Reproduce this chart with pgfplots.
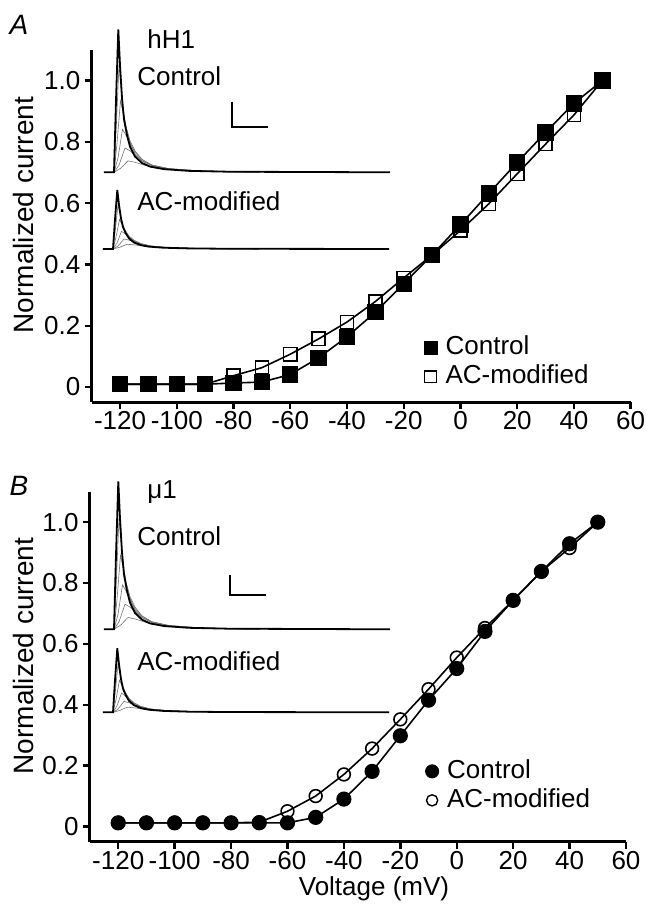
\documentclass[border=0pt]{standalone}
\usepackage{fontspec}
\setmainfont{Liberation Sans}
\usepackage{pgfplots}
\usepackage{pgfplotstable}
\pgfplotsset{compat=1.18}

\newcommand\fs{\fontsize{13}{15.6}\selectfont}
\newcommand\fl{\fontsize{14}{16.8}\selectfont}
\newcommand\tl[1]{\mbox{\fs #1}}

% inset current traces: t = px after onset, f = fraction of peak
\pgfplotstableread{
t f
-10 0
0 0
2 0.5
4.3 1
6 0.75
8 0.52
10 0.37
13 0.26
16 0.18
21 0.11
28 0.065
36 0.04
50 0.022
75 0.01
115 0.004
276 0
}\trmain
\pgfplotstableread{
t f
0 0
2.5 0.35
5 0.75
7 0.6
9 0.45
12 0.32
16 0.21
21 0.13
28 0.08
38 0.045
55 0.02
85 0.008
146 0
}\trb
\pgfplotstableread{
t f
0 0
3 0.2
6.5 0.5
9 0.42
12 0.32
16 0.22
21 0.15
28 0.09
38 0.05
55 0.025
85 0.01
146 0
}\trc
\pgfplotstableread{
t f
0 0
4 0.1
8.5 0.3
12 0.26
16 0.2
21 0.14
28 0.09
38 0.05
55 0.025
85 0.01
146 0
}\trd
\pgfplotstableread{
t f
0 0
5 0.05
11 0.17
16 0.15
21 0.12
28 0.08
38 0.05
55 0.025
85 0.01
146 0
}\tre
\pgfplotstableread{
t f
0 0
7 0.03
14 0.08
21 0.07
28 0.055
38 0.035
55 0.02
85 0.008
146 0
}\trf

\pgfplotsset{
  trace/.style={hide axis, scale only axis, clip=false, anchor=south west,
    xmin=-10, xmax=276, ymin=0, ymax=1, width=143pt},
  thin/.style={black!55, line width=0.3pt},
  iv/.style={scale only axis, anchor=south west,
    xmin=-130, xmax=60, ymin=-0.05, ymax=1.1,
    axis x line*=bottom, axis y line*=left,
    axis line style={-, line width=1.5pt},
    tick align=outside, major tick length=3.5pt,
    tick style={line width=1.2pt, black},
    xtick={-120,-100,-80,-60,-40,-20,0,20,40,60},
    xticklabels={\tl{-120},\tl{-100},\tl{-80},\tl{-60},\tl{-40},\tl{-20},\tl{0},\tl{20},\tl{40},\tl{60}},
    ytick={0,0.2,0.4,0.6,0.8,1},
    yticklabels={\tl{0},\tl{0.2},\tl{0.4},\tl{0.6},\tl{0.8},\tl{1.0}},
    xticklabel style={font=\fs, inner sep=1pt},
    yticklabel style={font=\fs, inner sep=2pt},
    legend cell align=left,
    legend style={draw=none, fill=none, inner sep=0pt, row sep=2.5pt,
      nodes={inner sep=0pt, text height=9.5pt, text depth=2.5pt, font=\fs},
      /tikz/every odd column/.append style={column sep=3.5pt}},
    legend image code/.code={\path[draw=none, fill=none] (-4pt,-4pt) rectangle (4pt,4pt);
      \draw[##1] plot coordinates {(0pt,0pt)};},
  },
}

\begin{document}
\begin{tikzpicture}
\useasboundingbox (0,0) rectangle (323.5pt,453.5pt);

% ---- panel A: hH1 ----
\begin{axis}[iv, at={(45.85pt,252.35pt)}, width=269.5pt, height=176.15pt,
  legend style={at={(axis cs:-13.5,0.080)}, anchor=west}]
\addplot[line width=0.8pt, mark=square, mark size=3.3pt,
  mark options={line width=0.8pt}, forget plot] coordinates {
(-120,0.009)(-110,0.009)(-100,0.009)(-90,0.009)(-80,0.037)(-70,0.063)
(-60,0.107)(-50,0.157)(-40,0.212)(-30,0.279)(-20,0.356)(-10,0.431)
(0,0.511)(10,0.598)(20,0.696)(30,0.793)(40,0.888)(50,1.0)};
\addplot[line width=0.8pt, mark=square*, mark size=3.7pt, forget plot] coordinates {
(-120,0.009)(-110,0.009)(-100,0.009)(-90,0.009)(-80,0.013)(-70,0.016)
(-60,0.041)(-50,0.095)(-40,0.164)(-30,0.244)(-20,0.337)(-10,0.431)
(0,0.530)(10,0.632)(20,0.733)(30,0.831)(40,0.926)(50,1.0)};
\addlegendimage{only marks, mark=square*, mark size=3.2pt}
\addlegendentry{Control}
\addlegendimage{only marks, mark=square, mark size=2.9pt, mark options={line width=0.7pt}}
\addlegendentry{AC-modified}
\end{axis}

% ---- panel B: mu1 ----
\begin{axis}[iv, at={(45pt,32.65pt)}, width=268pt, height=175pt,
  legend style={at={(axis cs:-11.7,0.1335)}, anchor=west}]
\addplot[line width=0.8pt, mark=o, mark size=3.2pt,
  mark options={line width=0.8pt}, forget plot] coordinates {
(-120,0.012)(-110,0.012)(-100,0.012)(-90,0.012)(-80,0.012)(-70,0.014)
(-60,0.050)(-50,0.100)(-40,0.171)(-30,0.256)(-20,0.352)(-10,0.451)
(0,0.555)(10,0.652)(20,0.743)(30,0.838)(40,0.915)(50,1.0)};
\addplot[line width=0.8pt, mark=*, mark size=3.4pt, forget plot] coordinates {
(-120,0.012)(-110,0.012)(-100,0.012)(-90,0.012)(-80,0.012)(-70,0.012)
(-60,0.012)(-50,0.030)(-40,0.090)(-30,0.181)(-20,0.298)(-10,0.415)
(0,0.519)(10,0.641)(20,0.743)(30,0.838)(40,0.929)(50,1.0)};
\addlegendimage{only marks, mark=*, mark size=3.3pt}
\addlegendentry{Control}
\addlegendimage{only marks, mark=o, mark size=2.8pt, mark options={line width=0.7pt}}
\addlegendentry{AC-modified}
\end{axis}

% ---- inset traces ----
\begin{axis}[trace, at={(52pt,367.35pt)}, height=71.5pt]
\addplot[thin] table[x=t,y=f] {\trf};
\addplot[thin] table[x=t,y=f] {\tre};
\addplot[thin] table[x=t,y=f] {\trd};
\addplot[thin] table[x=t,y=f] {\trc};
\addplot[thin] table[x=t,y=f] {\trb};
\addplot[black, line width=0.9pt] table[x=t,y=f] {\trmain};
\end{axis}
\begin{axis}[trace, at={(51.5pt,329pt)}, height=29.5pt]
\addplot[thin] table[x=t,y=f] {\trf};
\addplot[thin] table[x=t,y=f] {\tre};
\addplot[thin] table[x=t,y=f] {\trd};
\addplot[thin] table[x=t,y=f] {\trc};
\addplot[thin] table[x=t,y=f] {\trb};
\addplot[black, line width=0.9pt] table[x=t,y=f] {\trmain};
\end{axis}
\begin{axis}[trace, at={(52pt,138.85pt)}, height=74pt]
\addplot[thin] table[x=t,y=f] {\trf};
\addplot[thin] table[x=t,y=f] {\tre};
\addplot[thin] table[x=t,y=f] {\trd};
\addplot[thin] table[x=t,y=f] {\trc};
\addplot[thin] table[x=t,y=f] {\trb};
\addplot[black, line width=0.9pt] table[x=t,y=f] {\trmain};
\end{axis}
\begin{axis}[trace, at={(51.5pt,97.35pt)}, height=32pt]
\addplot[thin] table[x=t,y=f] {\trf};
\addplot[thin] table[x=t,y=f] {\tre};
\addplot[thin] table[x=t,y=f] {\trd};
\addplot[thin] table[x=t,y=f] {\trc};
\addplot[thin] table[x=t,y=f] {\trb};
\addplot[black, line width=0.9pt] table[x=t,y=f] {\trmain};
\end{axis}

% ---- labels, scale bars (pixel coordinates of the figure) ----
\begin{axis}[hide axis, scale only axis, clip=false, anchor=south west,
  at={(0pt,0pt)}, width=323.5pt, height=453.5pt,
  xmin=0, xmax=647, ymin=0, ymax=907, y dir=reverse]
\node[font=\fl\itshape] at (axis cs:19,25) {A};
\node[font=\fl\itshape] at (axis cs:19,486) {B};
\node[font=\fs, anchor=base west, inner sep=0pt] at (axis cs:147,48) {hH1};
\node[font=\fs, anchor=base west, inner sep=0pt] at (axis cs:147,498) {μ1};
\node[font=\fs, anchor=base west, inner sep=0pt] at (axis cs:137,85) {Control};
\node[font=\fs, anchor=base west, inner sep=0pt] at (axis cs:137,210) {AC-modified};
\node[font=\fs, anchor=base west, inner sep=0pt] at (axis cs:137,545) {Control};
\node[font=\fs, anchor=base west, inner sep=0pt] at (axis cs:137,670) {AC-modified};
\node[font=\fl, rotate=90, anchor=base, inner sep=0pt] at (axis cs:34,215) {Normalized current};
\node[font=\fl, rotate=90, anchor=base, inner sep=0pt] at (axis cs:34,656) {Normalized current};
\node[font=\fs, anchor=base, inner sep=0pt] at (axis cs:374,895) {Voltage (mV)};
\addplot[line width=1pt] coordinates {(231.7,101.7)(231.7,127.3)(268.3,127.3)};
\addplot[line width=1pt] coordinates {(230,575)(230,595)(265.7,595)};
\end{axis}
\end{tikzpicture}
\end{document}
